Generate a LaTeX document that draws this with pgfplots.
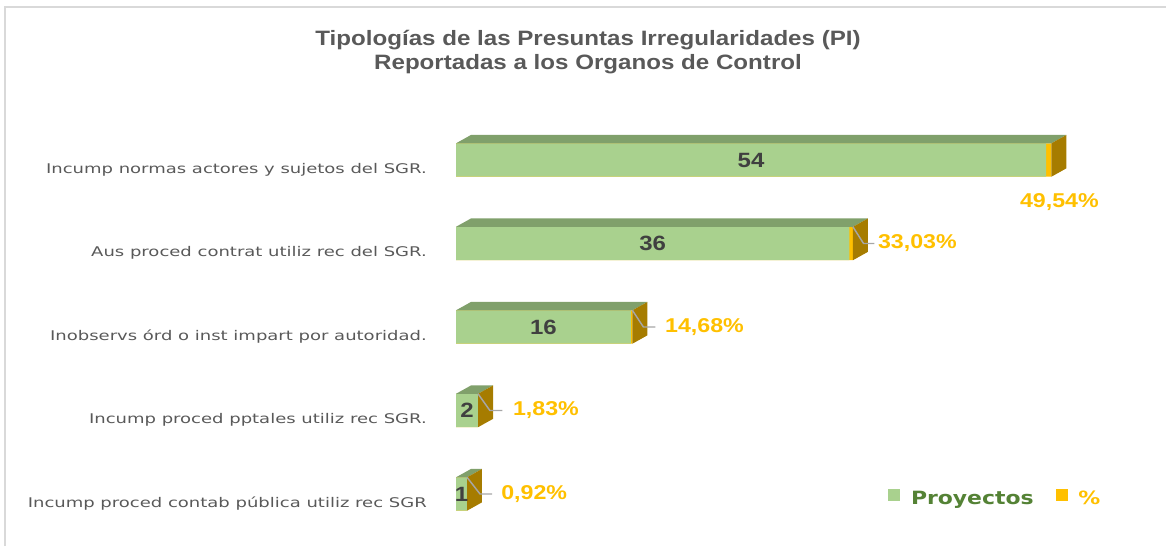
\documentclass[border=0pt]{standalone}
\usepackage{pgfplots}
\pgfplotsset{compat=1.18}
\usepackage{fontspec}
\setmainfont{Liberation Sans}
\newfontfamily\titlefont[FakeStretch=1.16]{Liberation Sans}
\newfontfamily\lblfont[FakeStretch=1.35]{DejaVu Sans}
\newfontfamily\legfont[FakeStretch=1.2]{DejaVu Sans}
\definecolor{frontGreen}{HTML}{A9D18E}
\definecolor{topGreen}{HTML}{80A06B}
\definecolor{barYellow}{HTML}{FFC000}
\definecolor{sideGold}{HTML}{A67C00}
\definecolor{txtGrey}{HTML}{595959}
\definecolor{valGrey}{HTML}{404040}
\definecolor{legGreen}{HTML}{548235}
\definecolor{leadGrey}{HTML}{A6A6A6}
\definecolor{frameGrey}{HTML}{D9D9D9}
\begin{document}
\begin{tikzpicture}
\path[use as bounding box] (0pt,0pt) rectangle (874.5pt,-409.5pt);
\draw[frameGrey, line width=1.5pt] (3.75pt,-409.5pt) -- (3.75pt,-5.25pt) -- (874.5pt,-5.25pt);
\node[font=\titlefont\bfseries\fontsize{15.6}{18}\selectfont, text=txtGrey, align=center] at (441pt,-39pt)
  {Tipologías de las Presuntas Irregularidades (PI)\\Reportadas a los Organos de Control};
\begin{axis}[
  at={(342pt,-401.81pt)}, anchor=south west,
  scale only axis, width=491.67pt, height=313.125pt,
  xmin=0, xmax=60, ymin=-0.5, ymax=4.5,
  clip=false,
  hide x axis,
  axis y line*=left,
  y axis line style={draw=none},
  ytick={0,1,2,3,4},
  yticklabels={Incump proced contab pública utiliz rec SGR,
               Incump proced pptales utiliz rec SGR.,
               Inobservs órd o inst impart por autoridad.,
               Aus proced contrat utiliz rec del SGR.,
               Incump normas actores y sujetos del SGR.},
  major tick length=0pt,
  ytick style={draw=none},
  yticklabel style={font=\lblfont\fontsize{10}{12}\selectfont, text=txtGrey, inner sep=0pt, xshift=-21.75pt, yshift=-7pt},
  legend image code/.code={\fill[#1, draw=none] (0pt,-1.25pt) rectangle (9pt,7.75pt);},
  legend style={at={(0.653,0.088)}, anchor=west, draw=none, fill=none,
    legend columns=2, font=\legfont\bfseries\fontsize{13.7}{15}\selectfont,
    /tikz/every odd column/.append style={column sep=6pt},
    /tikz/every even column/.append style={column sep=14.5pt}},
]
% yellow (%) segment: total length = Proyectos + fraction
\addplot[xbar, bar width=0.4, bar shift=0pt, fill=barYellow, draw=none, forget plot]
  coordinates {(54.4954,4) (36.3303,3) (16.1468,2) (2.0183,1) (1.0092,0)};
% green Proyectos
\addplot[xbar, bar width=0.4, bar shift=0pt, fill=frontGreen, draw=none, forget plot]
  coordinates {(54,4) (36,3) (16,2) (2,1) (1,0)};
% top faces
\addplot[fill=topGreen, draw=none, forget plot] coordinates {(0,4.2) (54.4954,4.2) (55.8654,4.3) (1.37,4.3)} -- cycle;
\addplot[fill=topGreen, draw=none, forget plot] coordinates {(0,3.2) (36.3303,3.2) (37.7003,3.3) (1.37,3.3)} -- cycle;
\addplot[fill=topGreen, draw=none, forget plot] coordinates {(0,2.2) (16.1468,2.2) (17.5168,2.3) (1.37,2.3)} -- cycle;
\addplot[fill=topGreen, draw=none, forget plot] coordinates {(0,1.2) (2.0183,1.2) (3.3883,1.3) (1.37,1.3)} -- cycle;
\addplot[fill=topGreen, draw=none, forget plot] coordinates {(0,0.2) (1.0092,0.2) (2.3792,0.3) (1.37,0.3)} -- cycle;
% side faces
\addplot[fill=sideGold, draw=none, forget plot] coordinates {(54.4954,3.8) (55.8654,3.9) (55.8654,4.3) (54.4954,4.2)} -- cycle;
\addplot[fill=sideGold, draw=none, forget plot] coordinates {(36.3303,2.8) (37.7003,2.9) (37.7003,3.3) (36.3303,3.2)} -- cycle;
\addplot[fill=sideGold, draw=none, forget plot] coordinates {(16.1468,1.8) (17.5168,1.9) (17.5168,2.3) (16.1468,2.2)} -- cycle;
\addplot[fill=sideGold, draw=none, forget plot] coordinates {(2.0183,0.8) (3.3883,0.9) (3.3883,1.3) (2.0183,1.2)} -- cycle;
\addplot[fill=sideGold, draw=none, forget plot] coordinates {(1.0092,-0.2) (2.3792,-0.1) (2.3792,0.3) (1.0092,0.2)} -- cycle;
% leader lines
\addplot[leadGrey, line width=1.1pt, forget plot] coordinates {(36.3303,3.2) (37.3,3.0) (38.3,3.0)};
\addplot[leadGrey, line width=1.1pt, forget plot] coordinates {(16.1468,2.2) (17.15,2.0) (18.25,2.0)};
\addplot[leadGrey, line width=1.1pt, forget plot] coordinates {(2.0183,1.2) (3.1,1.0) (4.25,1.0)};
\addplot[leadGrey, line width=1.1pt, forget plot] coordinates {(1.0092,0.2) (2.2,0.0) (3.3,0.0)};
% value labels (Proyectos)
\addplot[draw=none, mark=none, forget plot, nodes near coords, point meta=explicit symbolic,
  every node near coord/.append style={anchor=center, font=\titlefont\bfseries\fontsize{15.5}{18}\selectfont, text=valGrey, inner sep=0pt}]
  coordinates {(27,4) [54] (18,3) [36] (8,2) [16] (1,1) [2] (0.5,0) [1]};
% percentage labels
\addplot[draw=none, mark=none, forget plot, nodes near coords, point meta=explicit symbolic,
  every node near coord/.append style={anchor=west, font=\titlefont\bfseries\fontsize{15}{18}\selectfont, text=barYellow, inner sep=0pt}]
  coordinates {(51.6,3.5) [49,54\%] (38.6,3) [33,03\%] (19.12,2) [14,68\%] (5.2,1) [1,83\%] (4.12,0) [0,92\%]};
\addlegendimage{fill=frontGreen}
\addlegendentry{\textcolor{legGreen}{Proyectos}}
\addlegendimage{fill=barYellow}
\addlegendentry{\textcolor{barYellow}{\%}}
\end{axis}
\end{tikzpicture}
\end{document}
